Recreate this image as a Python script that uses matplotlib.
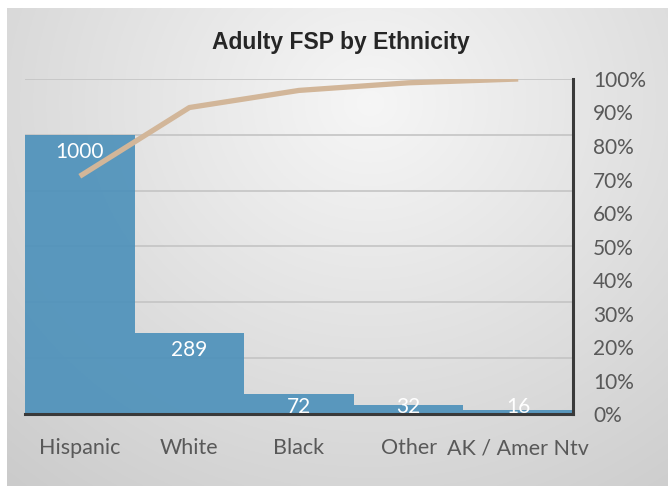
import matplotlib.pyplot as plt
from matplotlib.ticker import PercentFormatter
import numpy as np

# Counts by ethnicity, sorted descending for the Pareto layout
categories = ["Hispanic", "White", "Black", "Other", "AK / Amer Ntv"]
counts = [1000, 289, 72, 32, 16]
pct_ticks = [0, 0.1, 0.2, 0.3, 0.4, 0.5, 0.6, 0.7, 0.8, 0.9, 1.0]

plt.rcParams['font.family'] = ['Lato', 'DejaVu Sans']

fig = plt.figure(figsize=(6.68, 4.86), dpi=100)

# Grey panel with a soft radial gradient behind the chart
bg = fig.add_axes([7 / 668, 0, 1 - 7 / 668, 1 - 8 / 486], zorder=-10)
yy, xx = np.mgrid[0:1:300j, 0:1:400j]
r = np.sqrt(((xx - 0.55) / 0.8) ** 2 + ((yy - 0.2) / 1.0) ** 2)
shade = np.clip(0.965 - 0.16 * r, 0.78, 0.965)
bg.imshow(np.dstack([shade] * 3), aspect='auto', extent=[0, 1, 1, 0])
bg.axis('off')

ax = fig.add_axes([25 / 668, 1 - 414 / 486, (573 - 25) / 668, (414 - 79) / 486])
ax.patch.set_alpha(0)

x = np.arange(len(categories))
ax.bar(x, counts, width=1.0, color='#4b90ba', alpha=0.9, zorder=2)
ax.set_xlim(-0.5, len(categories) - 0.5)
ax.set_ylim(0, 1200)
ax.set_yticks(range(0, 1201, 200))
ax.yaxis.grid(True, color='#c4c4c4', linewidth=1.2, zorder=1)
ax.set_axisbelow(True)
ax.set_xticks(x)
ax.set_xticklabels(categories)
ax.tick_params(axis='x', bottom=False, labelsize=15.5, labelcolor='#595959', pad=14)
for side in ['left', 'top', 'right']:
    ax.spines[side].set_visible(False)
ax.spines['bottom'].set_color('#3a3a3a')
ax.spines['bottom'].set_linewidth(2.2)
ax.spines['bottom'].set_zorder(5)

# value labels inside the top of each bar
for xi, v in zip(x, counts):
    ax.text(xi, max(v - 60, 25), str(v), ha='center', va='center',
            color='white', fontsize=15, zorder=4)

# cumulative share on the secondary axis
cum = np.cumsum(counts) / np.sum(counts)
ax2 = ax.twinx()
ax2.plot(x, cum, color='#d2b699', linewidth=3.8, solid_capstyle='butt', zorder=3)
ax2.set_ylim(0, 1.0)
ax2.set_yticks(pct_ticks)
ax2.yaxis.set_major_formatter(PercentFormatter(1.0, decimals=0))
ax2.tick_params(axis='y', left=False, right=False, labelsize=15,
                labelcolor='#595959', pad=11)
for side in ['left', 'top', 'bottom']:
    ax2.spines[side].set_visible(False)
ax2.spines['right'].set_color('#3a3a3a')
ax2.spines['right'].set_linewidth(2.2)

# twinx turns the left ticks back on, so hide them afterwards
ax.tick_params(axis='y', left=False, right=False, labelleft=False)

fig.text(0.51, 1 - 42 / 486, "Adulty FSP by Ethnicity", ha='center', va='center',
         fontsize=16.5, fontweight='bold', color='#262626',
         family=['Liberation Sans', 'DejaVu Sans'])

fig.savefig('out.png', dpi=100)
